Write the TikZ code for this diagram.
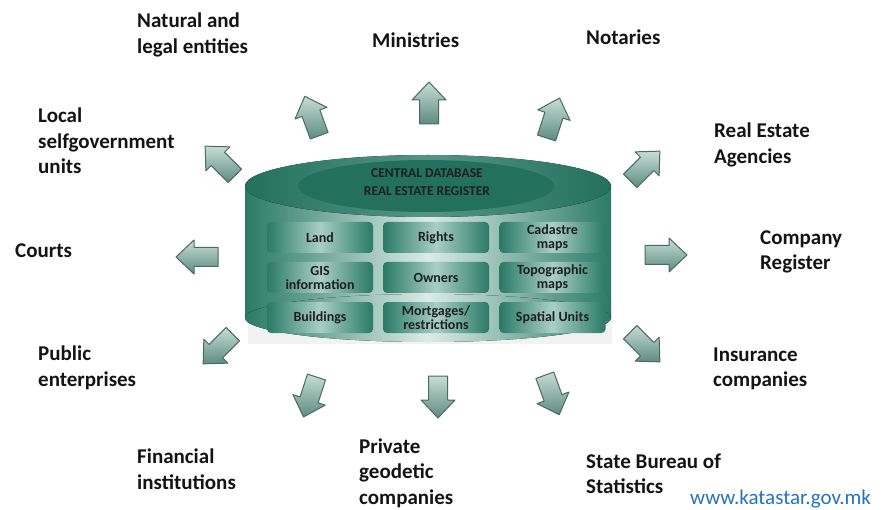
\documentclass[tikz,border=0pt]{standalone}
\usepackage{fontspec}
\setmainfont{Carlito}
\definecolor{tealA}{HTML}{2A7A66}
\definecolor{tealB}{HTML}{23705D}
\definecolor{tealL}{HTML}{DCEBE6}
\definecolor{tealM}{HTML}{A9CFC3}
\definecolor{arrL}{HTML}{C6DDD5}
\definecolor{arrD}{HTML}{5E8C7F}
\definecolor{arrE}{HTML}{4A6B62}
\definecolor{urlc}{HTML}{2472C0}
\newcommand\blockarr[3]{%
  \begin{scope}[shift={(#1,#2)},rotate=#3]
    \draw[arrsty] (-21,-9.5) -- (3,-9.5) -- (3,-17) -- (21,0) -- (3,17) -- (3,9.5) -- (-21,9.5) -- cycle;
  \end{scope}}
\tikzset{
  lab/.style={font=\bfseries\fontsize{21}{25.5}\selectfont, align=left, anchor=west, inner sep=0pt, text=black!92},
  cell/.style={rounded corners=4pt, left color=tealA, right color=tealA, middle color=tealM,
    minimum width=106pt, minimum height=31pt, inner sep=0pt, align=center,
    font=\bfseries\fontsize{14}{14}\selectfont, text=black!88},
  arrsty/.style={top color=arrL, bottom color=arrD, draw=arrE, line width=1pt, line join=round},
  bodysh/.style={left color=tealA, right color=tealA, middle color=tealL}
}
\begin{document}
\begin{tikzpicture}[x=1pt,y=-1pt]
\useasboundingbox (0,0) rectangle (885,510);
\fill[white] (0,0) rectangle (885,510);
% shadow plate
\fill[black!5] (248,300) rectangle (612,344);
% cylinder body
\fill[bodysh] (245,185) rectangle (611,318);
\fill[bodysh] (428,318) ellipse[x radius=183, y radius=24];
% top surface
\fill[left color=tealB, right color=tealB, middle color=tealA!80!white] (428,186) ellipse[x radius=183, y radius=31];
\fill[tealB] (426,186) ellipse[x radius=128, y radius=26];
\node[font=\bfseries\fontsize{13.5}{18}\selectfont, align=center, text=black!88, inner sep=0pt] (title) at (427,182) {CENTRAL DATABASE\\REAL ESTATE REGISTER};
% cells
\node[cell] (land) at (320,237.5) {Land};
\node[cell] (rights) at (436,237.5) {Rights};
\node[cell] (cad) at (552.5,237.5) {Cadastre\\maps};
\node[cell] (gis) at (320,277.5) {GIS\\information};
\node[cell] (own) at (436,277.5) {Owners};
\node[cell] (topo) at (552.5,277.5) {Topographic\\maps};
\node[cell] (bld) at (320,317.5) {Buildings};
\node[cell] (mort) at (436,317.5) {Mortgages/\\restrictions};
\node[cell] (spat) at (552.5,317.5) {Spatial Units};
% arrows
\blockarr{312}{116}{110}
\blockarr{220}{161}{135}
\blockarr{429}{103}{90}
\blockarr{553}{118}{72}
\blockarr{645}{166}{45}
\blockarr{197}{257}{180}
\blockarr{666}{255}{0}
\blockarr{218}{349}{225}
\blockarr{310}{397}{252}
\blockarr{438}{397}{270}
\blockarr{552}{395}{290}
\blockarr{645}{347}{315}
% labels
\node[lab] (nat) at (137,35) {Natural and\\legal entities};
\node[lab] (min) at (372,40) {Ministries};
\node[lab] (not) at (586,37) {Notaries};
\node[lab] (loc) at (38,141) {Local\\selfgovernment\\units};
\node[lab] (rea) at (714,145) {Real Estate\\Agencies};
\node[lab] (cou) at (15,251) {Courts};
\node[lab] (com) at (760,252) {Company\\Register};
\node[lab] (pub) at (38,368) {Public\\enterprises};
\node[lab] (ins) at (713,369) {Insurance\\companies};
\node[lab] (fin) at (137,469) {Financial\\institutions};
\node[lab] (pri) at (359,473) {Private\\geodetic\\companies};
\node[lab] (sta) at (586,474) {State Bureau of\\Statistics};
\node[anchor=west, inner sep=0pt, text=urlc, font=\fontsize{21}{21}\selectfont] (url) at (690,499) {www.katastar.gov.mk};
\end{tikzpicture}
\end{document}
